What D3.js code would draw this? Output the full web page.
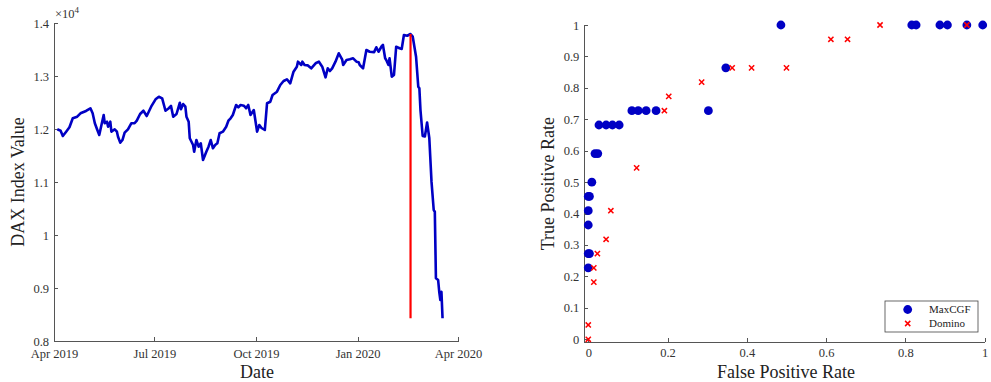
<!DOCTYPE html>
<html>
<head>
<meta charset="utf-8">
<script src="https://cdn.jsdelivr.net/npm/d3@7"></script>
<style>
  html, body { margin: 0; padding: 0; background: #fff; }
  svg { display: block; font-family: "Liberation Serif", "DejaVu Serif", serif; }
  .axis path, .axis line { stroke: #555; stroke-width: 1; shape-rendering: crispEdges; }
  .axis text { fill: #333; font-size: 12.5px; font-family: "Liberation Serif", serif; }
  .title { fill: #222; font-size: 18px; }
</style>
</head>
<body>
<svg id="fig" width="991" height="382"></svg>
<script>
// DAX closing levels, April 2019 – March 2020
const daxDates = [
  "2019-04-04","2019-04-07","2019-04-09","2019-04-12","2019-04-15","2019-04-18","2019-04-22","2019-04-25","2019-04-30",
  "2019-05-04","2019-05-06","2019-05-08","2019-05-10","2019-05-12","2019-05-14","2019-05-16","2019-05-17","2019-05-19",
  "2019-05-20","2019-05-22","2019-05-23","2019-05-26","2019-05-28","2019-05-29","2019-05-31",
  "2019-06-02","2019-06-04","2019-06-07","2019-06-10","2019-06-13","2019-06-15","2019-06-18","2019-06-21","2019-06-24","2019-06-28",
  "2019-07-02","2019-07-05","2019-07-08","2019-07-11","2019-07-14","2019-07-16","2019-07-18","2019-07-21","2019-07-24",
  "2019-07-25","2019-07-27","2019-07-29","2019-07-30",
  "2019-08-01","2019-08-02","2019-08-05","2019-08-06","2019-08-08","2019-08-10","2019-08-12","2019-08-14","2019-08-17",
  "2019-08-19","2019-08-21","2019-08-23","2019-08-25","2019-08-27","2019-08-29",
  "2019-09-01","2019-09-04","2019-09-06","2019-09-08","2019-09-10","2019-09-13","2019-09-15","2019-09-17","2019-09-20",
  "2019-09-22","2019-09-24","2019-09-26","2019-09-29",
  "2019-10-02","2019-10-04","2019-10-06","2019-10-09","2019-10-11","2019-10-14","2019-10-16","2019-10-20","2019-10-23",
  "2019-10-26","2019-10-29",
  "2019-11-01","2019-11-04","2019-11-07","2019-11-08","2019-11-11","2019-11-12","2019-11-14","2019-11-17","2019-11-20",
  "2019-11-24","2019-11-27","2019-11-30",
  "2019-12-03","2019-12-05","2019-12-07","2019-12-09","2019-12-12","2019-12-15","2019-12-18","2019-12-19","2019-12-22",
  "2019-12-25","2019-12-28","2019-12-31",
  "2020-01-02","2020-01-03","2020-01-06","2020-01-09","2020-01-12","2020-01-16","2020-01-18","2020-01-20","2020-01-23",
  "2020-01-24","2020-01-26","2020-01-27","2020-01-29","2020-01-30",
  "2020-02-01","2020-02-03","2020-02-05","2020-02-08","2020-02-10","2020-02-12","2020-02-15","2020-02-18","2020-02-20",
  "2020-02-23","2020-02-25","2020-02-26","2020-02-27","2020-02-29",
  "2020-03-02","2020-03-04","2020-03-06","2020-03-08","2020-03-10","2020-03-11","2020-03-12","2020-03-14","2020-03-15",
  "2020-03-16","2020-03-17","2020-03-18"
];
const daxValues = [
  11994,11968,11868,11949,12032,12202,12232,12296,12340,
  12391,12296,12108,11994,11887,12075,12264,12108,12138,
  12043,12138,11949,11994,11949,11855,11742,
  11792,11930,11994,12108,12108,12157,12283,12345,12245,12421,
  12560,12609,12579,12345,12391,12434,12232,12283,12496,
  12372,12472,12421,12232,
  12138,11825,11698,11572,11792,11666,11730,11415,11572,
  11666,11792,11636,11698,11730,11919,
  11949,12043,12157,12202,12264,12453,12409,12453,12440,
  12391,12453,12264,12358,
  11949,12075,12019,11981,12485,12515,12642,12704,12830,
  12906,12938,
  12862,13081,13175,13270,13208,13270,13208,13200,13145,
  13240,13270,13175,
  12975,13145,13094,13145,13270,13428,13315,13208,13302,
  13315,13334,13270,
  13260,13208,13145,13491,13458,13450,13542,13458,13566,
  13585,13334,13302,13208,13334,
  12987,13019,13553,13523,13510,13774,13760,13792,13742,
  13364,12798,12768,12358,11868,
  11858,12123,11830,11006,10472,10440,9183,9151,8930,
  8774,8930,8428
];
const crashDate = "2020-02-18";
const dateTicks = ["2019-04-01","2019-07-01","2019-10-01","2020-01-01","2020-04-01"];
const daxTicks = [8000, 9000, 10000, 11000, 12000, 13000, 14000];

// ROC points of the two detectors
const maxcgfFPR = [0, 0.003, 0, 0, 0, 0.003, 0, 0.009, 0.017, 0.024, 0.027, 0.045, 0.061, 0.078,
                   0.110, 0.126, 0.146, 0.171, 0.303, 0.347, 0.486, 0.816, 0.827, 0.887, 0.906, 0.955, 0.995];
const maxcgfTPR = [0.2273, 0.2727, 0.2727, 0.3636, 0.4091, 0.4545, 0.4545, 0.5, 0.5909, 0.5909, 0.6818, 0.6818, 0.6818, 0.6818,
                   0.7273, 0.7273, 0.7273, 0.7273, 0.7273, 0.8636, 1, 1, 1, 1, 1, 1, 1];
const dominoFPR = [0, 0, 0.014, 0.014, 0.023, 0.045, 0.057, 0.122, 0.192, 0.203, 0.286, 0.363, 0.412, 0.5,
                   0.612, 0.654, 0.736, 0.955];
const dominoTPR = [0, 0.0455, 0.1818, 0.2273, 0.2727, 0.3182, 0.4091, 0.5455, 0.7273, 0.7727, 0.8182, 0.8636, 0.8636, 0.8636,
                   0.9545, 0.9545, 1, 1];
const rateXTicks = [0, 0.2, 0.4, 0.6, 0.8, 1];
const rateYTicks = [0, 0.1, 0.2, 0.3, 0.4, 0.5, 0.6, 0.7, 0.8, 0.9, 1];
const seriesNames = ["MaxCGF", "Domino"];

const blue = "#0000c4", red = "#ff0000";
const svg = d3.select("#fig");
const parse = d3.utcParse("%Y-%m-%d");

// ---------- Left panel: DAX index ----------
const L = { left: 54, right: 458, top: 23, bottom: 341 };
const x1 = d3.scaleUtc().domain([parse(dateTicks[0]), parse(dateTicks[dateTicks.length - 1])]).range([L.left, L.right]);
const y1 = d3.scaleLinear().domain([8000, 14000]).range([L.bottom, L.top]);

svg.append("g").attr("class", "axis").attr("transform", `translate(0,${L.bottom})`)
  .call(d3.axisBottom(x1).tickValues(dateTicks.map(parse)).tickFormat(d3.utcFormat("%b %Y"))
    .tickSizeInner(-4).tickSizeOuter(0).tickPadding(8));
svg.append("g").attr("class", "axis").attr("transform", `translate(${L.left},0)`)
  .call(d3.axisLeft(y1).tickValues(daxTicks).tickFormat(d => d3.format("~g")(d / 1e4))
    .tickSizeInner(-4).tickSizeOuter(0).tickPadding(5));

// exponent label
const expo = svg.append("text").attr("x", L.left + 1).attr("y", L.top - 5)
  .attr("fill", "#333").style("font-size", "12.5px");
expo.append("tspan").text("×10");
expo.append("tspan").attr("dy", -5).style("font-size", "9px").text("4");

const daxData = daxDates.map((d, i) => ({ date: parse(d), value: daxValues[i] }));
svg.append("path").datum(daxData)
  .attr("fill", "none").attr("stroke", blue).attr("stroke-width", 2.6)
  .attr("stroke-linejoin", "round")
  .attr("d", d3.line().x(d => x1(d.date)).y(d => y1(d.value)));

// vertical marker at the pre-crash peak
const cd = parse(crashDate);
svg.append("line")
  .attr("x1", x1(cd)).attr("x2", x1(cd))
  .attr("y1", y1(d3.max(daxValues))).attr("y2", y1(d3.min(daxValues)))
  .attr("stroke", red).attr("stroke-width", 2.2);

svg.append("text").attr("class", "title").attr("x", (L.left + L.right) / 2 + 1).attr("y", 378)
  .attr("text-anchor", "middle").text("Date");
svg.append("text").attr("class", "title")
  .attr("transform", `translate(24,${(L.top + L.bottom) / 2}) rotate(-90)`)
  .attr("text-anchor", "middle").text("DAX Index Value");

// ---------- Right panel: ROC ----------
const R = { left: 584.3, right: 984.7, top: 25, bottom: 342.4 };
const x2 = d3.scaleLinear().domain([-0.01, 1]).range([R.left, R.right]);
const y2 = d3.scaleLinear().domain([-0.01, 1]).range([R.bottom, R.top]);

svg.append("g").attr("class", "axis").attr("transform", `translate(0,${R.bottom})`)
  .call(d3.axisBottom(x2).tickValues(rateXTicks).tickFormat(d3.format("~g"))
    .tickSizeInner(-4).tickSizeOuter(0).tickPadding(6));
svg.append("g").attr("class", "axis").attr("transform", `translate(${R.left},0)`)
  .call(d3.axisLeft(y2).tickValues(rateYTicks).tickFormat(d3.format("~g"))
    .tickSizeInner(-4).tickSizeOuter(0).tickPadding(5));

const crossPath = s => `M${-s},${-s}L${s},${s}M${-s},${s}L${s},${-s}`;

svg.append("g").selectAll("circle")
  .data(maxcgfFPR.map((f, i) => [f, maxcgfTPR[i]]))
  .join("circle")
  .attr("cx", d => x2(d[0])).attr("cy", d => y2(d[1])).attr("r", 4.4)
  .attr("fill", blue);

svg.append("g").selectAll("path")
  .data(dominoFPR.map((f, i) => [f, dominoTPR[i]]))
  .join("path")
  .attr("transform", d => `translate(${x2(d[0])},${y2(d[1])})`)
  .attr("d", crossPath(2.6))
  .attr("stroke", red).attr("stroke-width", 1.5).attr("fill", "none");

svg.append("text").attr("class", "title").attr("x", 786).attr("y", 378)
  .attr("text-anchor", "middle").text("False Positive Rate");
svg.append("text").attr("class", "title")
  .attr("transform", `translate(554,${(R.top + R.bottom) / 2}) rotate(-90)`)
  .attr("text-anchor", "middle").text("True Positive Rate");

// legend
const lg = svg.append("g").attr("transform", "translate(885,301)");
lg.append("rect").attr("width", 93).attr("height", 31)
  .attr("fill", "#fff").attr("stroke", "#444").attr("stroke-width", 0.8);
lg.append("circle").attr("cx", 22.7).attr("cy", 8.5).attr("r", 4.4).attr("fill", blue);
lg.append("path").attr("transform", "translate(22.7,22.5)").attr("d", crossPath(2.6))
  .attr("stroke", red).attr("stroke-width", 1.5);
lg.selectAll("text.lab").data(seriesNames).join("text").attr("class", "lab")
  .attr("x", 44).attr("y", (d, i) => 12 + i * 14)
  .attr("fill", "#222").style("font-size", "11px").text(d => d);
</script>
</body>
</html>
